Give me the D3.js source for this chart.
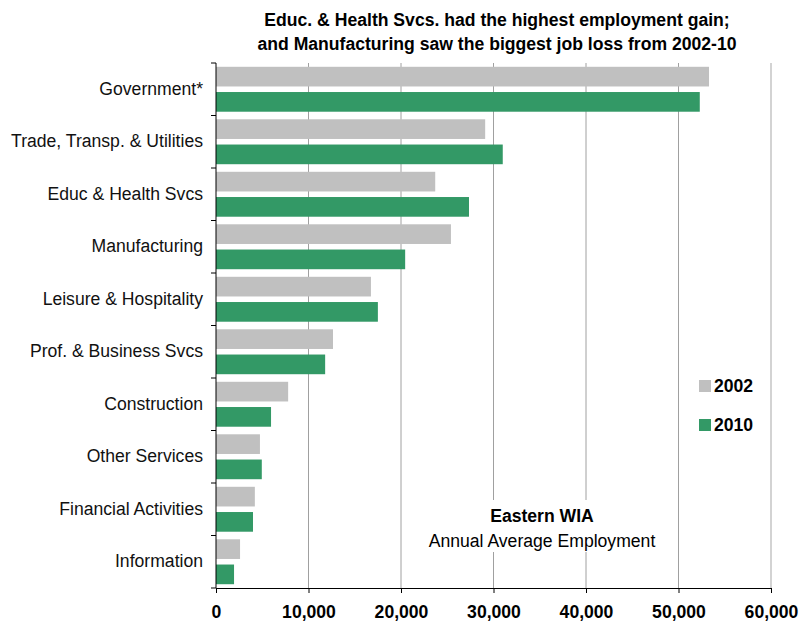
<!DOCTYPE html>
<html>
<head>
<meta charset="utf-8">
<script src="https://d3js.org/d3.v7.min.js"></script>
<style>
  body { margin: 0; background: #fff; }
  svg { font-family: "Liberation Sans", Arial, sans-serif; }
</style>
</head>
<body>
<div id="widget"></div>
<script>
// chart data
const categories = [
  'Government*', 'Trade, Transp. & Utilities', 'Educ & Health Svcs', 'Manufacturing',
  'Leisure & Hospitality', 'Prof. & Business Svcs', 'Construction', 'Other Services',
  'Financial Activities', 'Information'
];
const seriesNames = ['2002', '2010'];
const values2002 = [53300, 29100, 23700, 25400, 16750, 12650, 7800, 4750, 4200, 2600];
const values2010 = [52300, 31000, 27350, 20450, 17500, 11800, 5950, 4950, 4000, 1950];
const xTicks = [0, 10000, 20000, 30000, 40000, 50000, 60000];
const titleLines = [
  'Educ. & Health Svcs. had the highest employment gain;',
  'and Manufacturing saw the biggest job loss from 2002-10'
];

const colors = { '2002': '#c0c0c0', '2010': '#339966' };
const fs = '17.6px';

const draw = () => {
  const width = 800, height = 622;
  const margin = { top: 63, right: 29, bottom: 34, left: 216 };

  const svg = d3.select('#widget').append('svg')
    .attr('width', width)
    .attr('height', height);

  const rows = categories.map((c, i) => ({
    name: c,
    vals: [
      { key: '2002', v: values2002[i] },
      { key: '2010', v: values2010[i] }
    ]
  }));

  const x = d3.scaleLinear().domain([0, 60000]).range([margin.left, width - margin.right]);
  const y = d3.scaleBand().domain(categories).range([margin.top, height - margin.bottom]);
  const inner = d3.scaleBand().domain(seriesNames).range([0, y.bandwidth()])
    .paddingInner(0.22).paddingOuter(0.15);

  // gridlines
  svg.append('g')
    .selectAll('line')
    .data(xTicks.filter(d => d > 0))
    .enter()
    .append('line')
    .attr('x1', d => x(d)).attr('x2', d => x(d))
    .attr('y1', margin.top).attr('y2', height - margin.bottom)
    .attr('stroke', d => d === 60000 ? '#c8c8c8' : '#a0a0a0')
    .attr('stroke-width', d => d === 60000 ? 1.6 : 1);

  // bars
  const groups = svg.append('g')
    .selectAll('g')
    .data(rows)
    .enter()
    .append('g')
    .attr('transform', d => `translate(0,${y(d.name)})`);

  groups.selectAll('rect')
    .data(d => d.vals)
    .enter()
    .append('rect')
    .attr('x', x(0))
    .attr('y', d => inner(d.key))
    .attr('width', d => x(d.v) - x(0))
    .attr('height', inner.bandwidth())
    .attr('fill', d => colors[d.key]);

  // y axis: labels via axisLeft, ticks at band boundaries
  const yAxis = svg.append('g')
    .attr('transform', `translate(${x(0)},0)`)
    .call(d3.axisLeft(y).tickSize(0).tickPadding(13));
  yAxis.select('.domain').remove();
  yAxis.selectAll('text')
    .attr('font-size', fs)
    .attr('font-family', '"Liberation Sans", Arial, sans-serif')
    .attr('fill', '#111');

  const bounds = categories.map(c => y(c)).concat([y.range()[1]]);
  svg.append('g')
    .selectAll('line')
    .data(bounds)
    .enter()
    .append('line')
    .attr('x1', x(0) - 5).attr('x2', x(0))
    .attr('y1', d => d).attr('y2', d => d)
    .attr('stroke', '#000');
  svg.append('line')
    .attr('x1', x(0)).attr('x2', x(0))
    .attr('y1', margin.top).attr('y2', height - margin.bottom)
    .attr('stroke', '#000');

  // x axis
  const xAxis = svg.append('g')
    .attr('transform', `translate(0,${height - margin.bottom})`)
    .call(d3.axisBottom(x).tickValues(xTicks).tickSize(5).tickPadding(13).tickFormat(d3.format(',')));
  xAxis.select('.domain').attr('stroke', '#000');
  xAxis.selectAll('line').attr('stroke', '#000');
  xAxis.selectAll('text')
    .attr('font-size', fs)
    .attr('font-weight', 'bold')
    .attr('font-family', '"Liberation Sans", Arial, sans-serif')
    .attr('fill', '#000');

  // title
  svg.append('g')
    .selectAll('text')
    .data(titleLines)
    .enter()
    .append('text')
    .attr('x', 497)
    .attr('y', (d, i) => 26 + i * 24)
    .attr('text-anchor', 'middle')
    .attr('font-size', fs)
    .attr('font-weight', 'bold')
    .attr('fill', '#000')
    .text(d => d);

  // annotation box
  svg.append('rect')
    .attr('x', 420).attr('y', 500)
    .attr('width', 245).attr('height', 52)
    .attr('fill', '#fff');
  svg.append('text')
    .attr('x', 542).attr('y', 522)
    .attr('text-anchor', 'middle')
    .attr('font-size', fs)
    .attr('font-weight', 'bold')
    .text('Eastern WIA');
  svg.append('text')
    .attr('x', 542).attr('y', 547)
    .attr('text-anchor', 'middle')
    .attr('font-size', fs)
    .text('Annual Average Employment');

  // legend
  const legend = svg.append('g')
    .selectAll('g')
    .data(seriesNames)
    .enter()
    .append('g')
    .attr('transform', (d, i) => `translate(699,${380 + i * 39})`);
  legend.append('rect')
    .attr('width', 12).attr('height', 12)
    .attr('fill', d => colors[d]);
  legend.append('text')
    .attr('x', 15).attr('y', 12)
    .attr('font-size', fs)
    .attr('font-weight', 'bold')
    .text(d => d);
};

draw();
</script>
</body>
</html>
